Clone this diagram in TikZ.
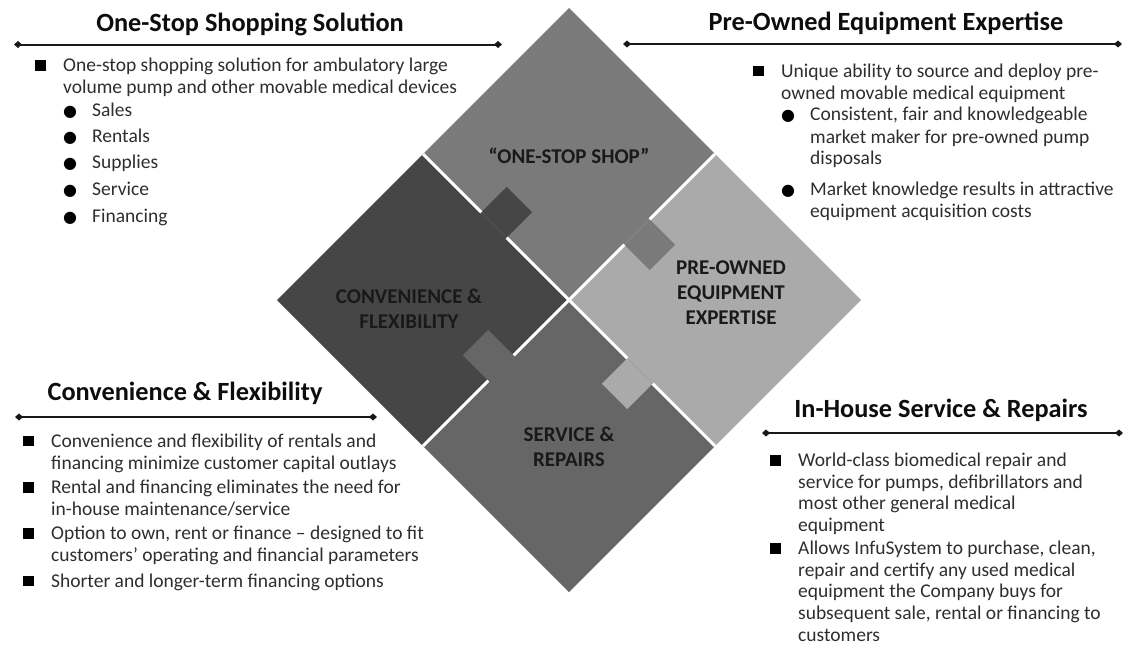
\documentclass[tikz,border=0pt]{standalone}
\usepackage{fontspec}
\setmainfont{Carlito}
\newfontfamily\symfont{DejaVu Sans}
\usetikzlibrary{arrows.meta, calc}

\definecolor{shopgrey}{HTML}{7A7A7A}
\definecolor{convgrey}{HTML}{464646}
\definecolor{pregrey}{HTML}{AAAAAA}
\definecolor{servgrey}{HTML}{666666}
\definecolor{textgrey}{HTML}{2E2E2E}

\newcommand{\sqb}{\makebox[28pt][l]{\color{black}\rule[1pt]{10.5pt}{10.5pt}}}
\newcommand{\dotb}{\makebox[29pt][l]{{\color{black}\symfont\fontsize{16}{16}\selectfont ●}}}
\newcommand{\cont}{\hspace*{28pt}}
\newcommand{\subcont}{\hspace*{57pt}}

\tikzset{
  body_font/.style = {font=\fontsize{19.5}{21.6}\selectfont},
  title_font/.style = {font=\fontsize{26.3}{30}\selectfont\bfseries},
  label_font/.style = {font=\fontsize{21}{25}\selectfont\bfseries}
}
\tikzset{
  title/.style = {title_font, text=black!95, inner sep=0},
  block/.style = {body_font, text=textgrey, align=left, inner sep=0, anchor=base west},
  piece_label/.style = {label_font, text=black!90, align=center, inner sep=0},
  rule_line/.style = {line width=2pt, black!90,
    {Diamond[length=8pt,width=7pt]}-{Diamond[length=8pt,width=7pt]}},
  gap_line/.style = {white, line width=3pt}
}

\begin{document}
\begin{tikzpicture}[x=1pt, y=-1pt]
        \useasboundingbox (0,0) rectangle (1129,648);

        % Puzzle corners
        \coordinate (c) at (569,300);
        \coordinate (top) at (569,8);
        \coordinate (left) at (277,300);
        \coordinate (right) at (861,300);
        \coordinate (bottom) at (569,592);
        \coordinate (tl) at (423,154);
        \coordinate (tr) at (715,154);
        \coordinate (bl) at (423,446);
        \coordinate (br) at (715,446);

        % Tab bases
        \coordinate (t1a) at (481.27,212.27);
        \coordinate (t1b) at (506.73,237.73);
        \coordinate (t2a) at (624.27,244.73);
        \coordinate (t2b) at (649.73,219.27);
        \coordinate (t3a) at (488.27,380.73);
        \coordinate (t3b) at (513.73,355.27);
        \coordinate (t4a) at (627.27,358.27);
        \coordinate (t4b) at (652.73,383.73);

        % Pieces
        \fill[shopgrey] (top) -- (tr) -- (c) -- (tl) -- cycle;
        \fill[convgrey] (tl) -- (c) -- (bl) -- (left) -- cycle;
        \fill[pregrey] (tr) -- (right) -- (br) -- (c) -- cycle;
        \fill[servgrey] (c) -- (br) -- (bottom) -- (bl) -- cycle;

        % Tabs
        \fill[convgrey] (t1a) -- ++(25.46,-25.46) -- ++(25.46,25.46) -- (t1b) -- cycle;
        \fill[shopgrey] (t2a) -- (t2b) -- ++(25.46,25.46) -- ++(-25.46,25.46) -- cycle;
        \fill[servgrey] (t3a) -- (t3b) -- ++(-25.46,-25.46) -- ++(-25.46,25.46) -- cycle;
        \fill[pregrey] (t4a) -- (t4b) -- ++(-25.46,25.46) -- ++(-25.46,-25.46) -- cycle;

        % Gaps between pieces
        \draw[gap_line] (tl) -- (t1a);
        \draw[gap_line] (t1b) -- (c);
        \draw[gap_line] (c) -- (t2a);
        \draw[gap_line] (t2b) -- (tr);
        \draw[gap_line] (bl) -- (t3a);
        \draw[gap_line] (t3b) -- (c);
        \draw[gap_line] (c) -- (t4a);
        \draw[gap_line] (t4b) -- (br);

        % Piece labels
        \node[piece_label] (shop_lbl) at (569,156) {“ONE-STOP SHOP”};
        \node[piece_label] (conv_lbl) at (409,309) {CONVENIENCE \&\\FLEXIBILITY};
        \node[piece_label] (pre_lbl) at (731,293) {PRE-OWNED\\EQUIPMENT\\EXPERTISE};
        \node[piece_label] (serv_lbl) at (569,446.5) {SERVICE \&\\REPAIRS};

        % One-Stop Shopping Solution
        \node[title] (oss_title) at (250,24) {One-Stop Shopping Solution};
        \coordinate (oss_a) at (14,44.5);
        \coordinate (oss_b) at (502,44.5);
        \draw[rule_line] (oss_a) -- (oss_b);
        \node[block] at (35,222) (oss_text) {
            \sqb One-stop shopping solution for ambulatory large \\
            \cont volume pump and other movable medical devices \\[1.3pt]
            \cont\dotb Sales \\[5pt]
            \cont\dotb Rentals \\[4.5pt]
            \cont\dotb Supplies \\[5pt]
            \cont\dotb Service \\[5pt]
            \cont\dotb Financing
            };

        % Pre-Owned Equipment Expertise
        \node[title] (pre_title) at (886,23) {Pre-Owned Equipment Expertise};
        \coordinate (pre_a) at (623,44);
        \coordinate (pre_b) at (1122,44);
        \draw[rule_line] (pre_a) -- (pre_b);
        \node[block] at (753,217) (pre_text) {
            \sqb Unique ability to source and deploy pre- \\
            \cont owned movable medical equipment \\
            \cont\dotb Consistent, fair and knowledgeable \\[1pt]
            \subcont market maker for pre-owned pump \\
            \subcont disposals \\[9pt]
            \cont\dotb Market knowledge results in attractive \\
            \subcont equipment acquisition costs
            };

        % Convenience & Flexibility
        \node[title] (conv_title) at (185,393) {Convenience \& Flexibility};
        \coordinate (conv_a) at (15,417);
        \coordinate (conv_b) at (377,417);
        \draw[rule_line] (conv_a) -- (conv_b);
        \node[block] at (23,587) (conv_text) {
            \sqb Convenience and flexibility of rentals and \\
            \cont financing minimize customer capital outlays \\[3pt]
            \sqb Rental and financing eliminates the need for \\
            \cont in-house maintenance/service \\[3pt]
            \sqb Option to own, rent or finance – designed to fit \\
            \cont customers’ operating and financial parameters \\[4pt]
            \sqb Shorter and longer-term financing options
            };

        % In-House Service & Repairs
        \node[title] (serv_title) at (941,410) {In-House Service \& Repairs};
        \coordinate (serv_a) at (762,433);
        \coordinate (serv_b) at (1123,433);
        \draw[rule_line] (serv_a) -- (serv_b);
        \node[block] at (770,641) (serv_text) {
            \sqb World-class biomedical repair and \\
            \cont service for pumps, defibrillators and \\
            \cont most other general medical \\
            \cont equipment \\[1.5pt]
            \sqb Allows InfuSystem to purchase, clean, \\
            \cont repair and certify any used medical \\
            \cont equipment the Company buys for \\
            \cont subsequent sale, rental or financing to \\
            \cont customers
            };
\end{tikzpicture}
\end{document}
